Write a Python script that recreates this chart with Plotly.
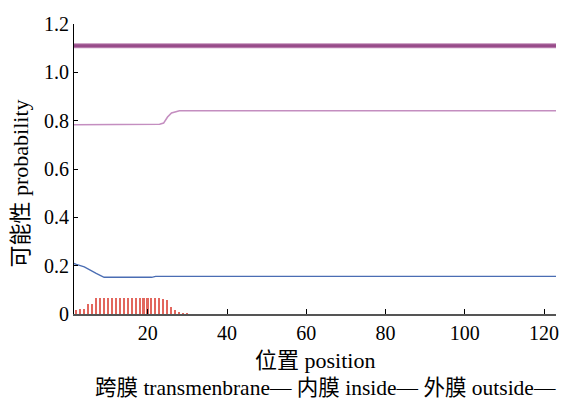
import plotly.graph_objects as go

# Data
bar_pos = [2, 3, 4, 5, 6, 7, 8, 9, 10, 11, 12, 13, 14, 15, 16, 17, 18, 19, 20, 21, 22, 23, 24, 25, 26, 27, 28, 29, 30]
bar_val = [0.015, 0.02, 0.02, 0.04, 0.04, 0.065, 0.065, 0.065, 0.065, 0.065, 0.065, 0.065, 0.065, 0.065, 0.065,
           0.065, 0.065, 0.065, 0.065, 0.065, 0.065, 0.065, 0.062, 0.06, 0.03, 0.015, 0.005, 0.004, 0.004]

top_x = [1, 123]
top_y = [1.11, 1.11]

inside_x = [1, 22, 23, 24, 25, 26, 27, 28, 123]
inside_y = [0.783, 0.783, 0.785, 0.79, 0.815, 0.832, 0.838, 0.841, 0.841]

blue_x = [1, 2, 4, 5, 6, 7, 8, 9, 21, 22, 123]
blue_y = [0.212, 0.205, 0.195, 0.185, 0.175, 0.168, 0.16, 0.152, 0.152, 0.156, 0.156]

x_ticks = [20, 40, 60, 80, 100, 120]
y_ticks = [0, 0.2, 0.4, 0.6, 0.8, 1.0, 1.2]
y_tick_text = ["0", "0.2", "0.4", "0.6", "0.8", "1.0", "1.2"]

FONT = "Liberation Serif, Times New Roman, Noto Sans CJK SC"

fig = go.Figure()
fig.add_trace(go.Bar(x=bar_pos, y=bar_val, width=0.4, marker=dict(color="#e2675e", line=dict(width=0)),
                     showlegend=False))
fig.add_trace(go.Scatter(x=top_x, y=top_y, mode="lines", line=dict(color="#c08ab6", width=5), showlegend=False))
fig.add_trace(go.Scatter(x=top_x, y=top_y, mode="lines", line=dict(color="#984c8a", width=3), showlegend=False))
fig.add_trace(go.Scatter(x=inside_x, y=inside_y, mode="lines", line=dict(color="#c48ec0", width=1.6), showlegend=False))
fig.add_trace(go.Scatter(x=blue_x, y=blue_y, mode="lines", line=dict(color="#4a6db3", width=1.3), showlegend=False))

fig.update_layout(
    width=564, height=403,
    margin=dict(l=74, r=8, t=24, b=89, autoexpand=False),
    paper_bgcolor="white", plot_bgcolor="white",
    font=dict(family=FONT, size=20, color="black"),
    bargap=0,
    xaxis=dict(range=[1.4, 123], tickvals=x_ticks, ticks="inside", ticklen=5, tickcolor="black",
               showline=True, linecolor="#555555", linewidth=2, showgrid=False, zeroline=False,
               automargin=False, ticklabeloverflow="allow", tickfont=dict(family=FONT, size=20)),
    yaxis=dict(range=[0, 1.2], tickvals=y_ticks, ticktext=y_tick_text, ticks="inside", ticklen=4,
               tickcolor="black", showline=True, linecolor="black", linewidth=1, showgrid=False,
               zeroline=False, automargin=False, ticklabeloverflow="allow",
               tickfont=dict(family=FONT, size=20)),
    annotations=[
        dict(text="位置 position", xref="paper", yref="paper", x=0.5, y=-0.16, xanchor="center",
             yanchor="middle", showarrow=False, font=dict(family=FONT, size=22)),
        dict(text="跨膜 transmenbrane— 内膜 inside— 外膜 outside—", xref="paper", yref="paper",
             x=1.004, y=-0.255, xanchor="right", yanchor="middle", showarrow=False,
             font=dict(family=FONT, size=21.5)),
        dict(text="可能性 probability", xref="paper", yref="paper", x=-0.112, y=0.45, xanchor="center",
             yanchor="middle", textangle=-90, showarrow=False, font=dict(family=FONT, size=22)),
    ],
)

fig.write_html("out.html", config={"displayModeBar": False},
               post_script="document.body.style.margin='0px';document.body.style.overflow='hidden';")
